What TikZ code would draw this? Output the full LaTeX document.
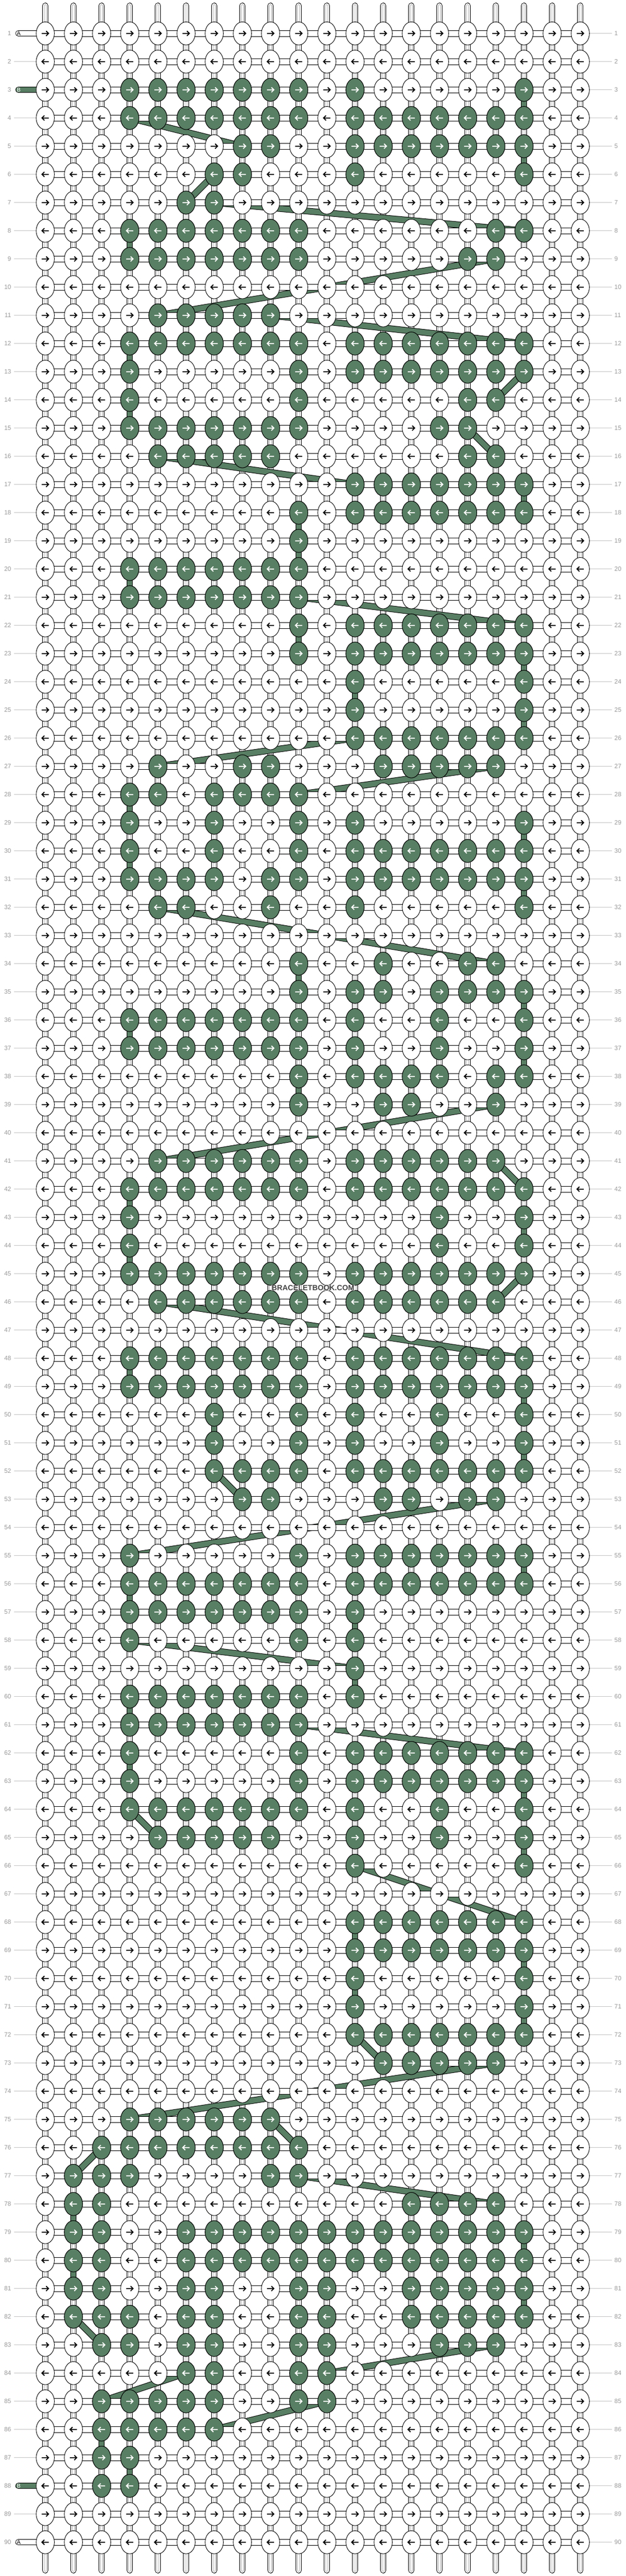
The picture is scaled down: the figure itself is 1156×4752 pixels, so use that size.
\documentclass[tikz,border=0pt]{standalone}
\usepackage{fontspec}
\setmainfont{Liberation Sans}
\definecolor{bgreen}{HTML}{587E63}
\definecolor{lgrey}{HTML}{C4C4C4}
\definecolor{sgrey}{HTML}{B4B4B4}
\definecolor{ngrey}{HTML}{9A9A9A}
\definecolor{wmgrey}{HTML}{444444}
\newcommand\KX[1]{\fpeval{83.6+(#1-1)*52}}
\newcommand\KY[1]{\fpeval{61.7+(#1-1)*52}}
\tikzset{
  knotline/.style={draw=black, line width=0.9pt},
  numlab/.style={font=\fontsize{11.5}{12}\selectfont, text=ngrey, inner sep=0pt},
  sidelabel/.style={font=\fontsize{10.5}{11}\selectfont, inner sep=0pt, anchor=west},
  greyline/.style={lgrey, line width=1pt},
  arrowline/.style={line width=1.8pt, line cap=butt, line join=miter},
  knotshape/.style={x radius=16.8, y radius=21.3}
}
\begin{document}
\begin{tikzpicture}[x=1pt,y=-1pt]
\useasboundingbox (0,0) rectangle (1156,4752);
\fill[white] (0,0) rectangle (1156,4752);
% vertical strands
\draw[black, line width=11pt, line cap=round] \foreach \c in {1,...,20} {(\KX{\c},10.5) -- (\KX{\c},4741.5)};
\draw[white, line width=9pt, line cap=round] \foreach \c in {1,...,20} {(\KX{\c},10.5) -- (\KX{\c},4741.5)};
\draw[sgrey, line width=5.2pt, line cap=round] \foreach \c in {1,...,20} {(\KX{\c},10.5) -- (\KX{\c},4741.5)};
\draw[white, line width=3.6pt, line cap=round] \foreach \c in {1,...,20} {(\KX{\c},10.5) -- (\KX{\c},4741.5)};
% green vertical connectors
\def\vlist{3/18,5/18,8/4,12/4,14/4,17/18,18/10,19/10,20/4,22/10,23/18,24/12,25/18,
  28/4,29/18,30/4,31/18,34/10,35/18,36/4,37/18,38/10,42/4,43/18,44/4,48/4,49/18,50/7,51/18,
  55/18,56/4,57/12,59/12,60/4,62/4,63/18,65/18,68/12,69/18,70/12,71/18,78/2,79/18,80/2,81/18,
  86/3,87/4}
\draw[black, line width=11pt] \foreach \r/\c in \vlist {(\KX{\c},\KY{\r}) -- (\KX{\c},{\KY{\r}+52})};
\draw[bgreen, line width=9pt] \foreach \r/\c in \vlist {(\KX{\c},\KY{\r}) -- (\KX{\c},{\KY{\r}+52})};
% bands
\def\blist{4/4/5/8,6/7/7/6,7/7/8/18,9/17/11/5,11/9/12/18,13/18/14/17,
  15/16/16/17,16/5/17/12,21/10/22/18,26/12/27/5,27/17/28/10,32/5/34/17,39/17/41/5,
  41/17/42/18,45/18/46/17,46/5/48/18,52/7/53/8,53/17/55/4,58/4/59/12,61/10/62/18,
  64/4/65/5,66/12/68/18,72/12/73/13,73/17/75/4,75/9/76/10,76/3/77/2,77/10/78/17,
  82/2/83/3,83/17/84/11,84/6/85/3,85/11/86/7}
\foreach \ra/\ca/\rb/\cb in \blist {
  \draw[black, line width=12pt] (\KX{\ca},\KY{\ra}) -- (\KX{\cb},\KY{\rb});
  \draw[bgreen, line width=10pt] (\KX{\ca},\KY{\ra}) -- (\KX{\cb},\KY{\rb});
}
% horizontal connectors
\draw[black, line width=11.7pt] \foreach \r in {1,...,90} {(\KX{1},\KY{\r}) -- (\KX{20},\KY{\r})};
\draw[white, line width=9.7pt] \foreach \r in {1,...,90} {(\KX{1},\KY{\r}) -- (\KX{20},\KY{\r})};
% side lines
\draw[greyline] \foreach \r in {1,...,90} {(\KX{20},\KY{\r}) -- (1130,\KY{\r})};
\draw[greyline] \foreach \r in {2,4,5,6,7,8,9,10,11,12,13,14,15,16,17,18,19,20,21,22,23,24,25,26,27,28,29,30,
  31,32,33,34,35,36,37,38,39,40,41,42,43,44,45,46,47,48,49,50,51,52,53,54,55,56,57,58,59,60,
  61,62,63,64,65,66,67,68,69,70,71,72,73,74,75,76,77,78,79,80,81,82,83,84,85,86,87,89}
  {(26,\KY{\r}) -- (\KX{1},\KY{\r})};
% row numbers
\foreach \r in {1,...,90} {
  \node[numlab, anchor=east] at (20.8,\KY{\r}) {\r};
  \node[numlab, anchor=west] at (1134.5,\KY{\r}) {\r};
}
% string labels A and B
\foreach \r/\col/\txt/\tc in {1/white/A/black,90/white/A/black,3/bgreen/B/white,88/bgreen/B/white} {
  \draw[black, line width=10.6pt, line cap=round] (33.6,\KY{\r}) -- (\KX{1},\KY{\r});
  \draw[\col, line width=8.8pt, line cap=round] (33.6,\KY{\r}) -- (\KX{1},\KY{\r});
  \node[sidelabel, text=\tc] at (30.8,\KY{\r}) {\txt};
}
% all knots (white)
\foreach \r in {1,...,90} {
  \pgfmathtruncatemacro\sx{1-2*mod(\r+1,2)}
  \edef\yr{\KY{\r}}
  \filldraw[fill=white, knotline] \foreach \c in {1,...,20} {(\KX{\c},\yr) ellipse [knotshape]};
  \draw[arrowline, black] \foreach \c in {1,...,20} {
    ({\KX{\c}-6.5*\sx},\yr) -- ++({12.1*\sx},0)
    ({\KX{\c}+1.6*\sx},{\yr-4.5}) -- ++({4.5*\sx},4.5) -- ++({-4.5*\sx},4.5)};
}
% green knots
\foreach \r/\cl in {
3/{4,5,6,7,8,9,10,12,18},
4/{4,5,6,7,8,9,10,12,13,14,15,16,17,18},
5/{8,9,12,13,14,15,16,17,18},
6/{7,8,12,18},
7/{6,7},
8/{4,5,6,7,8,9,10,17,18},
9/{4,5,6,7,8,9,10,16,17},
11/{5,6,7,8,9},
12/{4,5,6,7,8,9,10,12,13,14,15,16,17,18},
13/{4,10,12,13,14,15,16,17,18},
14/{4,10,16,17},
15/{4,5,6,7,8,9,10,15,16},
16/{5,6,7,8,9,16,17},
17/{12,13,14,15,16,17,18},
18/{10,12,13,14,15,16,17,18},
19/{10},
20/{4,5,6,7,8,9,10},
21/{4,5,6,7,8,9,10},
22/{10,12,13,14,15,16,17,18},
23/{10,12,13,14,15,16,17,18},
24/{12,18},
25/{12,18},
26/{12,13,14,15,16,17,18},
27/{5,8,9,13,14,15,16,17},
28/{4,5,7,8,9,10},
29/{4,7,10,12,18},
30/{4,7,10,12,13,14,15,16,17,18},
31/{4,5,6,7,9,10,12,13,14,15,16,17,18},
32/{5,6,9,12,18},
34/{10,13,16,17},
35/{10,12,13,15,16,17,18},
36/{4,5,6,7,8,9,10,12,15,18},
37/{4,5,6,7,8,9,10,12,15,18},
38/{10,12,13,14,15,17,18},
39/{10,13,14,17},
41/{5,6,7,8,9,10,12,13,14,15,16,17},
42/{4,5,6,7,8,9,10,12,13,14,15,16,17,18},
43/{4,15,18},
44/{4,15,18},
45/{4,5,6,7,8,9,10,12,13,14,15,16,17,18},
46/{5,6,7,8,9,10,12,13,14,15,16,17},
48/{4,5,6,7,8,9,10,12,13,14,15,16,17,18},
49/{4,5,6,7,8,9,10,12,13,14,15,16,17,18},
50/{7,10,12,15,18},
51/{7,10,12,15,18},
52/{7,8,9,10,12,13,14,15,16,17,18},
53/{8,9,13,14,16,17},
55/{4,10,12,13,14,15,16,17,18},
56/{4,5,6,7,8,9,10,12,13,14,15,16,17,18},
57/{4,5,6,7,8,9,10,12},
58/{4,10,12},
59/{12},
60/{4,5,6,7,8,9,10,12},
61/{4,5,6,7,8,9,10},
62/{4,10,12,13,14,15,16,17,18},
63/{4,10,12,13,14,15,16,17,18},
64/{4,5,6,7,8,9,10,12,15,18},
65/{5,6,7,8,9,12,15,18},
66/{12,18},
68/{12,13,14,15,16,17,18},
69/{12,13,14,15,16,17,18},
70/{12,18},
71/{12,18},
72/{12,13,14,15,16,17,18},
73/{13,14,15,16,17},
75/{4,5,6,7,8,9},
76/{3,4,5,6,7,8,9,10},
77/{2,3,4,9,10},
78/{2,3,14,15,16,17},
79/{2,3,6,7,8,9,10,11,12,13,14,15,16,17,18},
80/{2,3,6,7,8,9,10,11,12,13,14,15,16,17,18},
81/{2,3,6,7,10,11,14,15,16,17,18},
82/{2,3,4,6,7,10,11,14,15,16,17,18},
83/{3,4,6,7,10,11,15,16,17},
84/{6,7,10,11},
85/{3,4,5,6,7,10,11},
86/{3,4,5,6,7},
87/{3,4},
88/{3,4}} {
  \pgfmathtruncatemacro\sx{1-2*mod(\r+1,2)}
  \edef\yr{\KY{\r}}
  \filldraw[fill=bgreen, knotline] \foreach \c in \cl {(\KX{\c},\yr) ellipse [knotshape]};
  \draw[arrowline, white] \foreach \c in \cl {
    ({\KX{\c}-6.5*\sx},\yr) -- ++({12.1*\sx},0)
    ({\KX{\c}+1.6*\sx},{\yr-4.5}) -- ++({4.5*\sx},4.5) -- ++({-4.5*\sx},4.5)};
}
% watermark
\node[font=\bfseries\fontsize{13.8}{14}\selectfont, text=wmgrey, fill=white, fill opacity=0.55,
  text opacity=1, inner sep=0.6pt] (wm) at (578,2375.7) {BRACELETBOOK.COM};
\end{tikzpicture}
\end{document}
